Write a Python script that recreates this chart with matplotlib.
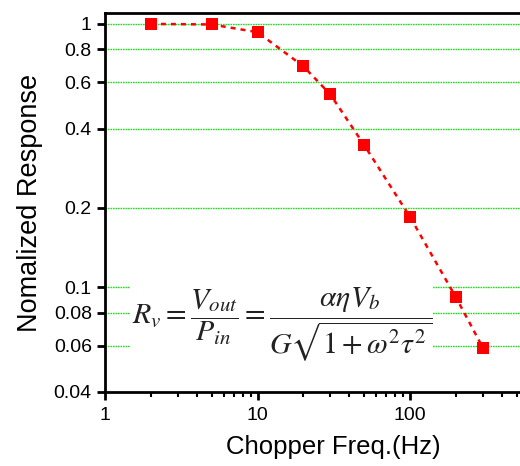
import matplotlib
matplotlib.use('Agg')
import matplotlib.pyplot as plt
from matplotlib import ticker

# chopper frequency (Hz) and normalized response
freq = [2, 5, 10, 20, 30, 50, 100, 200, 300]
response = [1.0, 0.995, 0.93, 0.69, 0.54, 0.347, 0.185, 0.0916, 0.059]

y_ticks = [0.04, 0.06, 0.08, 0.1, 0.2, 0.4, 0.6, 0.8, 1]
y_tick_labels = ['0.04', '0.06', '0.08', '0.1', '0.2', '0.4', '0.6', '0.8', '1']
x_ticks = [1, 10, 100]
x_tick_labels = ['1', '10', '100']
grid_levels = [0.06, 0.08, 0.1, 0.2, 0.4, 0.6, 0.8, 1]

plt.rcParams['font.family'] = ['Liberation Sans', 'DejaVu Sans']
plt.rcParams['mathtext.fontset'] = 'stix'

W, H = 520, 466
fig = plt.figure(figsize=(W / 100, H / 100), dpi=100)
# axes runs off the right edge like the cropped original
left, right, top, bottom = 105, 562.5, 13, 392
ax = fig.add_axes([left / W, 1 - bottom / H, (right - left) / W, (bottom - top) / H])

ax.set_xscale('log')
ax.set_yscale('log')
ax.set_xlim(1, 1000)
ax.set_ylim(0.04, 1.1)

for g in grid_levels:
    ax.axhline(g, color='#22dd22', lw=1.0, ls=(0, (1.2, 0.6)), zorder=1)

ax.plot(freq, response, color='red', lw=1.8, ls=(0, (2, 2)), zorder=3)
ax.plot(freq, response, 's', color='red', ms=8.5, zorder=4, markeredgewidth=0)

ax.yaxis.set_major_locator(ticker.FixedLocator(y_ticks))
ax.yaxis.set_major_formatter(ticker.FixedFormatter(y_tick_labels))
ax.yaxis.set_minor_locator(ticker.NullLocator())
ax.xaxis.set_major_locator(ticker.FixedLocator(x_ticks))
ax.xaxis.set_major_formatter(ticker.FixedFormatter(x_tick_labels))
ax.xaxis.set_minor_locator(ticker.LogLocator(base=10, subs=range(2, 10)))
ax.xaxis.set_minor_formatter(ticker.NullFormatter())

ax.tick_params(which='major', direction='out', length=6, width=2, labelsize=14)
ax.tick_params(which='minor', direction='out', length=3.5, width=1.5)
ax.tick_params(axis='x', pad=5)

for side in ['left', 'bottom', 'top', 'right']:
    ax.spines[side].set_linewidth(2)

ax.set_xlabel('Chopper Freq.(Hz)', fontsize=18.5, labelpad=8)
ax.set_ylabel('Nomalized Response', fontsize=19.5, labelpad=8)

ax.text(0.058, 0.18, r'$R_v=\dfrac{V_{out}}{P_{in}}=\dfrac{\alpha\eta V_b}{G\sqrt{1+\omega^2\tau^2}}$',
        transform=ax.transAxes, fontsize=21.5, color='#222222', va='center', ha='left',
        bbox=dict(facecolor='white', edgecolor='none', pad=1), zorder=2)

plt.savefig('out.png', dpi=100)
